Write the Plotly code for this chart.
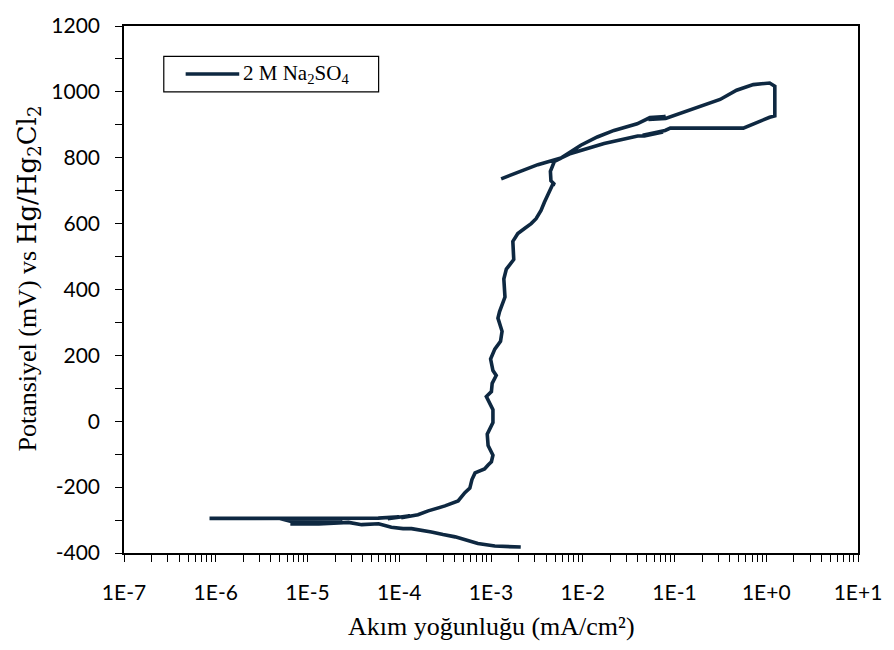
import plotly.graph_objects as go

# Potentiodynamic polarization scan, listed in acquisition order
current_density = [  # mA/cm²
    2.11e-3, 1.60e-3, 1.10e-3, 7.2e-4, 5.5e-4, 4.07e-4, 3.0e-4, 2.24e-4,
    1.36e-4, 1.10e-4, 8.2e-5, 5.95e-5, 3.9e-5, 2.8e-5,
    1.33e-5, 6.8e-6, 6.8e-6, 1.6e-5, 7.5e-6, 2.4e-5, 6.8e-6,
    5.0e-6, 8.55e-7, 1.0e-5, 5.9e-5,
    1.0e-4, 7.5e-5, 1.3e-4, 1.05e-4, 1.6e-4,
    2.07e-4, 3.15e-4, 4.38e-4, 5.19e-4, 5.88e-4, 6.2e-4, 6.7e-4, 8.5e-4, 9.3e-4, 1.01e-3,
    1.05e-3, 0.93e-3, 0.91e-3, 1.05e-3, 1.05e-3, 0.89e-3, 1.01e-3, 1.03e-3, 1.14e-3, 1.05e-3,
    0.99e-3, 1.10e-3, 1.27e-3, 1.32e-3, 1.19e-3, 1.24e-3, 1.42e-3, 1.38e-3, 1.47e-3, 1.77e-3,
    1.73e-3, 1.96e-3, 2.32e-3, 2.74e-3, 3.10e-3, 3.51e-3, 3.82e-3, 4.15e-3, 4.44e-3, 4.70e-3,
    4.95e-3, 4.50e-3, 4.44e-3, 4.91e-3, 5.79e-3,
    7.41e-3, 9.52e-3, 1.44e-2, 2.19e-2, 3.92e-2, 5.4e-2, 8.0e-2, 5.2e-2, 8.0e-2,
    0.137, 0.314, 0.475, 0.722, 1.09, 1.24,
    1.24, 1.09, 0.562, 0.090, 0.079, 0.045, 0.075, 0.047, 0.0397,
    0.0171, 7.4e-3, 5.79e-3, 3.24e-3, 2.13e-3, 1.29e-3,
]
potential = [  # mV vs Hg/Hg2Cl2
    -382, -381, -379, -371, -362, -351, -344, -336,
    -326, -326, -322, -311, -314, -307,
    -312, -312, -304, -305, -308, -303, -305,
    -295, -295, -295, -294,
    -290, -296, -287, -293, -284,
    -272, -257, -242, -217, -203, -177, -157, -145, -133, -123,
    -103, -74, -39, -4, 35, 75, 90, 115, 139, 154,
    189, 219, 243, 273, 313, 333, 377, 432, 462, 491,
    546, 570, 585, 600, 615, 640, 665, 689, 704, 719,
    719, 730, 759, 789, 799,
    818, 838, 863, 883, 903, 922, 925, 916, 919,
    942, 977, 1005, 1022, 1027, 1017,
    927, 923, 890, 890, 883, 868, 878, 866, 866,
    843, 813, 799, 779, 759, 736,
]

SERIES_NAME = "2 M Na<sub>2</sub>SO<sub>4</sub>"
X_TITLE = "Akım yoğunluğu (mA/cm²)"
Y_TITLE = ("Potansiyel (mV) vs "
           "<span style='font-family:DejaVu Serif'>Hg/Hg<sub>2</sub>Cl<sub>2</sub></span>")

X_DECADES = [-7, -6, -5, -4, -3, -2, -1, 0, 1]
X_DECADE_LABELS = ["1E-7", "1E-6", "1E-5", "1E-4", "1E-3", "1E-2", "1E-1", "1E+0", "1E+1"]
Y_MAJOR = [-400, -200, 0, 200, 400, 600, 800, 1000, 1200]
Y_MINOR = [-300, -100, 100, 300, 500, 700, 900, 1100]

LINE_COLOR = "#0E2841"
TICK_FONT = dict(family="Lato", size=21, color="black")
SERIF = "Liberation Serif"

# x ticks: labelled decades plus unlabelled 2..9 minor positions
x_tickvals, x_ticktext = [], []
for e, lab in zip(X_DECADES, X_DECADE_LABELS):
    x_tickvals.append(10.0 ** e)
    x_ticktext.append(lab)
    if e < X_DECADES[-1]:
        for m in range(2, 10):
            x_tickvals.append(m * 10.0 ** e)
            x_ticktext.append("")

y_tickvals = Y_MAJOR + Y_MINOR
y_ticktext = [str(v) for v in Y_MAJOR] + [""] * len(Y_MINOR)

fig = go.Figure()
fig.add_trace(go.Scatter(
    x=current_density, y=potential, mode="lines", name=SERIES_NAME,
    line=dict(color=LINE_COLOR, width=3.6), showlegend=False,
))

axis_common = dict(
    showline=True, linecolor="black", linewidth=1.5, mirror=True,
    ticks="outside", ticklen=7, tickwidth=1.3, tickcolor="black",
    showgrid=False, zeroline=False, tickfont=TICK_FONT,
)

fig.update_layout(
    width=894, height=650,
    margin=dict(l=124, r=32, t=15, b=97),
    paper_bgcolor="white", plot_bgcolor="white",
    xaxis=dict(type="log", range=[-7, 1], tickmode="array",
               tickvals=x_tickvals, ticktext=x_ticktext,
               ticklabelstandoff=13, **axis_common),
    yaxis=dict(range=[-400, 1200], tickmode="array",
               tickvals=y_tickvals, ticktext=y_ticktext,
               ticklabelstandoff=11, **axis_common),
)

# axis titles
fig.add_annotation(xref="paper", yref="paper", x=0.5, y=-0.14,
                   text=X_TITLE, showarrow=False, xanchor="center", yanchor="middle",
                   font=dict(family=SERIF, size=26, color="black"))
fig.add_annotation(xref="paper", yref="paper", x=-0.13, y=0.52,
                   text=Y_TITLE, showarrow=False, textangle=-90,
                   xanchor="center", yanchor="middle",
                   font=dict(family=SERIF, size=26, color="black"))

# legend box
fig.add_shape(type="rect", xref="paper", yref="paper",
              x0=0.0542, x1=0.3469, y0=0.875, y1=0.9424,
              line=dict(color="black", width=1.2), fillcolor="white")
fig.add_shape(type="line", xref="paper", yref="paper",
              x0=0.084, x1=0.157, y0=0.909, y1=0.909,
              line=dict(color=LINE_COLOR, width=3.6))
fig.add_annotation(xref="paper", yref="paper", x=0.159, y=0.909,
                   text=SERIES_NAME, showarrow=False, xanchor="left", yanchor="middle",
                   font=dict(family=SERIF, size=21, color="black"))

fig.write_html("out.html")
